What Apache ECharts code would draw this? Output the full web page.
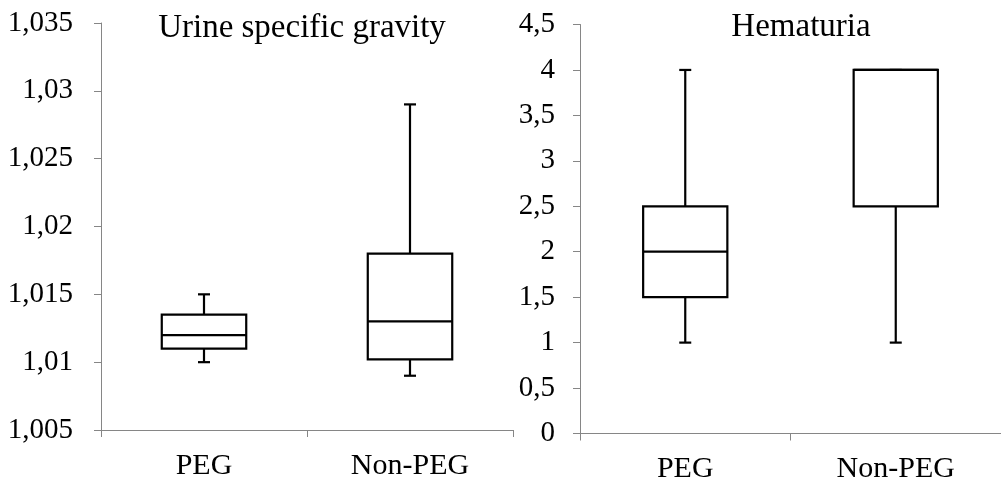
<!DOCTYPE html>
<html>
<head>
<meta charset="utf-8">
<script src="https://cdn.jsdelivr.net/npm/echarts@6/dist/echarts.min.js"></script>
<style>
html,body{margin:0;padding:0;background:#fff;}
#chart{width:1001px;height:485px;}
</style>
</head>
<body>
<div id="chart"></div>
<script>
// ---- data ----
const categories = ['PEG', 'Non-PEG'];
// [min, Q1, median, Q3, max]
const gravityStats = [
  [1.010, 1.011, 1.012, 1.0135, 1.015],
  [1.009, 1.0102, 1.013, 1.018, 1.029]
];
const hematuriaStats = [
  [1, 1.5, 2, 2.5, 4],
  [1, 2.5, 4, 4, 4]
];
const gravityAxis = { min: 1.005, max: 1.035, interval: 0.005 };
const hematuriaAxis = { min: 0, max: 4.5, interval: 0.5 };
const titles = ['Urine specific gravity', 'Hematuria'];

// ---- chart ----
const FONT = '"Liberation Serif", "Times New Roman", serif';
const AXIS_COLOR = '#868686';

function fmt(v) {
  return String(+v.toFixed(4)).replace('.', ',');
}

function makeRender(boxFrac) {
  return function (params, api) {
    const x = api.value(0);
    const lo = api.coord([x, api.value(1)]);
    const q1 = api.coord([x, api.value(2)]);
    const md = api.coord([x, api.value(3)]);
    const q3 = api.coord([x, api.value(4)]);
    const hi = api.coord([x, api.value(5)]);
    const bw = api.size([1, 0])[0] * boxFrac;
    const cx = lo[0];
    const cap = 6;
    const st = { stroke: '#000', lineWidth: 2.2, fill: null };
    const line = (x1, y1, x2, y2) => ({ type: 'line', shape: { x1, y1, x2, y2 }, style: st });
    return {
      type: 'group',
      children: [
        line(cx, q1[1], cx, lo[1]),
        line(cx - cap, lo[1], cx + cap, lo[1]),
        line(cx, q3[1], cx, hi[1]),
        line(cx - cap, hi[1], cx + cap, hi[1]),
        { type: 'rect', shape: { x: cx - bw / 2, y: q3[1], width: bw, height: q1[1] - q3[1] }, style: { stroke: '#000', lineWidth: 2.2, fill: '#fff' } },
        line(cx - bw / 2, md[1], cx + bw / 2, md[1])
      ]
    };
  };
}

function toData(stats) {
  return stats.map((s, i) => [i].concat(s));
}

function xAxis(gridIndex) {
  return {
    type: 'category', gridIndex, data: categories, boundaryGap: true,
    axisLine: { lineStyle: { color: AXIS_COLOR, width: 1 } },
    axisTick: { show: true, inside: false, length: 7, lineStyle: { color: AXIS_COLOR } },
    axisLabel: { fontFamily: FONT, fontSize: 30, color: '#000', margin: 21 },
    splitLine: { show: false }
  };
}
function yAxis(gridIndex, ax, margin) {
  return {
    type: 'value', gridIndex, min: ax.min, max: ax.max, interval: ax.interval,
    axisLine: { show: true, lineStyle: { color: AXIS_COLOR, width: 1 } },
    axisTick: { show: true, inside: false, length: 7, lineStyle: { color: AXIS_COLOR } },
    axisLabel: { fontFamily: FONT, fontSize: 29, color: '#000', margin, formatter: fmt },
    splitLine: { show: false }
  };
}

const chart = echarts.init(document.getElementById('chart'), null, { renderer: 'canvas' });
chart.setOption({
  animation: false,
  backgroundColor: '#fff',
  title: [
    { text: titles[0], left: 297, top: 7, textAlign: 'center', textStyle: { fontFamily: FONT, fontSize: 33, fontWeight: 'normal', color: '#000' } },
    { text: titles[1], left: 796, top: 6, textAlign: 'center', textStyle: { fontFamily: FONT, fontSize: 33, fontWeight: 'normal', color: '#000' } }
  ],
  grid: [
    { left: 101, top: 23, width: 412, height: 407 },
    { left: 580, top: 24.5, width: 430, height: 409 }
  ],
  xAxis: [xAxis(0), xAxis(1)],
  yAxis: [yAxis(0, gravityAxis, 28), yAxis(1, hematuriaAxis, 25)],
  series: [
    { type: 'custom', xAxisIndex: 0, yAxisIndex: 0, renderItem: makeRender(0.41), encode: { x: 0, y: [1, 2, 3, 4, 5] }, data: toData(gravityStats) },
    { type: 'custom', xAxisIndex: 1, yAxisIndex: 1, renderItem: makeRender(0.40), encode: { x: 0, y: [1, 2, 3, 4, 5] }, data: toData(hematuriaStats) }
  ]
});
</script>
</body>
</html>
